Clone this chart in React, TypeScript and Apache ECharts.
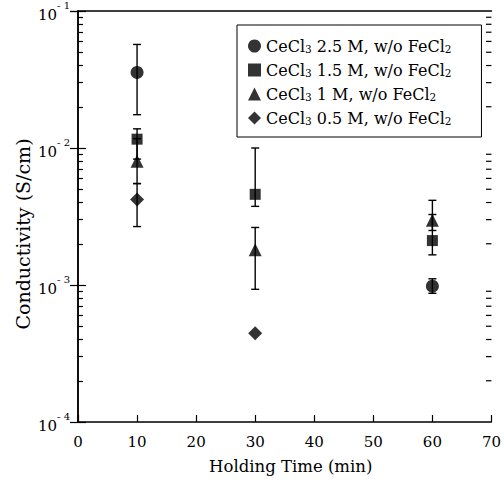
import React, { useEffect, useRef } from "react";
import * as echarts from "echarts";

const times = [10, 30, 60];
const concentrations = ["2.5", "1.5", "1", "0.5"];
const symbolKinds = ["circle", "rect", "triangle", "diamond"];
const symbolSizes = [13, 11, 13, 14];

const circleValues = [0.0356, null, 0.00098];
const circleLow = [0.0175, null, 0.00087];
const circleHigh = [0.057, null, 0.00111];

const squareValues = [0.0116, 0.00459, 0.00211];
const squareLow = [0.0083, 0.00375, 0.00166];
const squareHigh = [0.0138, 0.0100, 0.00327];

const triangleValues = [0.0080, 0.00181, 0.00297];
const triangleLow = [0.0055, 0.00093, 0.0025];
const triangleHigh = [0.0117, 0.00263, 0.00415];

const diamondValues = [0.0042, 0.000444, null];
const diamondLow = [0.00267, null, null];
const diamondHigh = [0.0055, null, null];

const minorMantissas = [2, 3, 4, 5, 6, 7, 8, 9];
const minorDecades = [1e-4, 1e-3, 1e-2];
const xMin = 0;
const xMax = 70;
const xInterval = 10;
const yMin = 1e-4;
const yMax = 1e-1;

const FONT = "DejaVu Serif";

export default function App() {
  const ref = useRef<HTMLDivElement>(null);
  useEffect(() => {
    if (!ref.current) return;
    document.body.style.margin = "0";
    const chart = echarts.init(ref.current, null, { renderer: "svg" });
    const valueSets = [circleValues, squareValues, triangleValues, diamondValues];
    const lowSets = [circleLow, squareLow, triangleLow, diamondLow];
    const highSets = [circleHigh, squareHigh, triangleHigh, diamondHigh];
    const names = concentrations.map((c) => `CeCl3 ${c} M, w/o FeCl2`);

    const errData: any[] = [];
    lowSets.forEach((lows, s) => {
      lows.forEach((lo, i) => {
        const hi = highSets[s][i];
        if (lo != null && hi != null) errData.push([times[i], lo, hi]);
      });
    });

    const minorTicks: number[] = [];
    minorDecades.forEach((d) => minorMantissas.forEach((m) => minorTicks.push(m * d)));
    const minorData = minorTicks.map((v) => [xMax, v]);

    const axisLineStyle = { color: "#000", width: 1.5 };

    const option: any = {
      animation: false,
      backgroundColor: "#fff",
      textStyle: { fontFamily: FONT, color: "#000" },
      grid: { left: 78, right: 12, top: 11, bottom: 62 },
      graphic: [
        {
          type: "text",
          x: 23,
          y: 234,
          rotation: Math.PI / 2,
          style: {
            text: "Conductivity (S/cm)",
            fontFamily: FONT,
            fontSize: 19,
            fill: "#000",
            align: "center",
            verticalAlign: "middle",
          },
        },
      ],
      legend: {
        orient: "vertical",
        left: 237,
        top: 25,
        padding: [11, 30, 11, 11],
        borderColor: "#000",
        borderWidth: 1,
        backgroundColor: "#fff",
        itemGap: 6,
        itemWidth: 13,
        itemHeight: 13,
        data: names.map((n, i) => ({ name: n, icon: symbolKinds[i] })),
        formatter: (name: string) => {
          const m = name.match(/^CeCl3 (.*) M, w\/o FeCl2$/);
          const c = m ? m[1] : "";
          return `{a|CeCl}{s|3}{a| ${c} M, w/o FeCl}{s|2}`;
        },
        textStyle: {
          fontFamily: FONT,
          fontSize: 16,
          color: "#000",
          rich: {
            a: { fontFamily: FONT, fontSize: 16, color: "#000", lineHeight: 16, verticalAlign: "middle" },
            s: { fontFamily: FONT, fontSize: 10.5, color: "#000", lineHeight: 16, verticalAlign: "bottom", padding: [7, 0, 0, 0] },
          },
        },
      },
      xAxis: [
        {
          type: "value",
          min: xMin,
          max: xMax,
          interval: xInterval,
          name: "Holding Time (min)",
          nameLocation: "middle",
          nameGap: 36,
          nameTextStyle: { fontFamily: FONT, fontSize: 16.5, color: "#000", padding: [0, 0, 0, 12] },
          axisLine: { lineStyle: axisLineStyle },
          axisTick: { inside: true, length: 7, lineStyle: { color: "#000", width: 1.2 } },
          axisLabel: { fontFamily: FONT, fontSize: 15, color: "#000", margin: 12 },
          splitLine: { show: false },
        },
        {
          type: "value",
          position: "top",
          min: xMin,
          max: xMax,
          interval: xInterval,
          axisLine: { show: true, lineStyle: axisLineStyle },
          axisTick: { show: false },
          axisLabel: { show: false },
          splitLine: { show: false },
        },
      ],
      yAxis: [
        {
          type: "log",
          logBase: 10,
          min: yMin,
          max: yMax,
          axisLine: { lineStyle: axisLineStyle },
          axisTick: { inside: true, length: 8, lineStyle: { color: "#000", width: 1.2 } },
          axisLabel: {
            margin: 8,
            formatter: (v: number) => {
              const e = Math.round(Math.log10(v));
              return `{b|10}{s|- ${-e}}`;
            },
            rich: {
              b: { fontFamily: FONT, fontSize: 15, color: "#000", lineHeight: 22, verticalAlign: "bottom" },
              s: { fontFamily: FONT, fontSize: 10, color: "#000", lineHeight: 22, verticalAlign: "top" },
            },
          },
          splitLine: { show: false },
        },
        {
          type: "log",
          logBase: 10,
          position: "right",
          min: yMin,
          max: yMax,
          axisLine: { show: true, lineStyle: axisLineStyle },
          axisTick: { show: true, inside: true, length: 8, lineStyle: { color: "#000", width: 1.2 } },
          axisLabel: { show: false },
          splitLine: { show: false },
        },
        {
          type: "log",
          logBase: 10,
          position: "left",
          offset: 0,
          min: yMin,
          max: yMax,
          axisLine: { show: false },
          axisTick: {
            show: true,
            inside: true,
            length: 5,
            customValues: minorTicks,
            lineStyle: { color: "#000", width: 1.2 },
          },
          axisLabel: { show: false },
          splitLine: { show: false },
        },
      ],
      series: [
        {
          type: "custom",
          name: "minor ticks",
          silent: true,
          z: 10,
          clip: false,
          data: minorData,
          renderItem: (params: any, api: any) => {
            const v = api.value(1);
            const r = api.coord([xMax, v]);
            return {
              type: "rect",
              shape: { x: r[0] - 5.5, y: r[1] - 0.6, width: 5.5, height: 1.2 },
              style: { fill: "#000" },
            };
          },
        },
        {
          type: "custom",
          name: "errors",
          silent: true,
          z: 2,
          data: errData,
          renderItem: (params: any, api: any) => {
            const x = api.value(0);
            const lo = api.coord([x, api.value(1)]);
            const hi = api.coord([x, api.value(2)]);
            const w = 4;
            const st = { stroke: "#000", lineWidth: 1.4 };
            return {
              type: "group",
              children: [
                { type: "line", shape: { x1: lo[0], y1: lo[1], x2: hi[0], y2: hi[1] }, style: st },
                { type: "line", shape: { x1: lo[0] - w, y1: lo[1], x2: lo[0] + w, y2: lo[1] }, style: st },
                { type: "line", shape: { x1: hi[0] - w, y1: hi[1], x2: hi[0] + w, y2: hi[1] }, style: st },
              ],
            };
          },
        },
        ...names.map((n, s) => ({
          type: "scatter",
          name: n,
          symbol: symbolKinds[s],
          symbolSize: symbolSizes[s],
          z: 3,
          itemStyle: { color: "#000" },
          data: times
            .map((t, i) => [t, valueSets[s][i]])
            .filter((d) => d[1] != null),
        })),
      ],
    };
    chart.setOption(option);
    return () => chart.dispose();
  }, []);
  return <div ref={ref} style={{ width: 504, height: 484 }} />;
}
